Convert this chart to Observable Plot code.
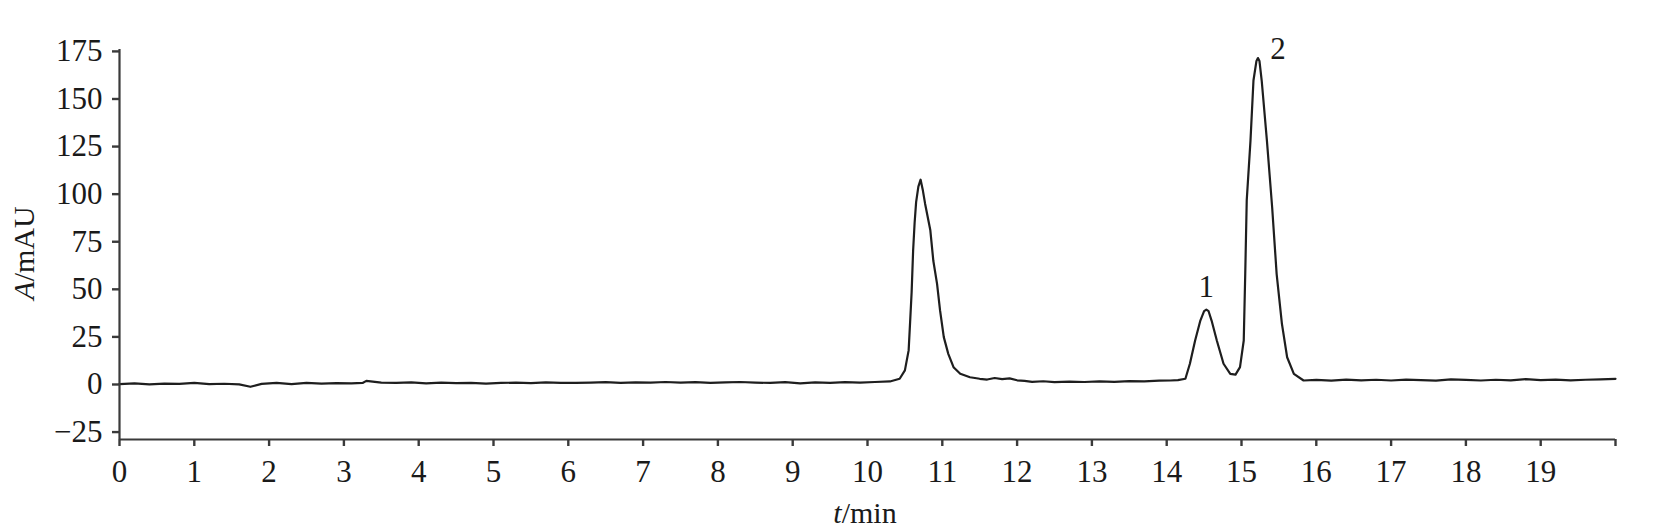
<!DOCTYPE html>
<html><head><meta charset="utf-8">
<script src="https://cdn.jsdelivr.net/npm/d3@7"></script>
<script src="https://cdn.jsdelivr.net/npm/@observablehq/plot@0.6"></script>
<style>html,body{margin:0;padding:0;background:#fff}svg{display:block}</style>
</head><body><div id="chart"></div>
<script>
// retention time (min)
const time = [
 0, 0.2, 0.4, 0.6, 0.8, 1.0, 1.2, 1.4, 1.6, 1.75, 1.9, 2.1, 2.3, 2.5, 2.7, 2.9, 3.1, 3.25, 3.3, 3.5,
 3.7, 3.9, 4.1, 4.3, 4.5, 4.7, 4.9, 5.1, 5.3, 5.5, 5.7, 5.9, 6.1, 6.3, 6.5, 6.7, 6.9, 7.1, 7.3, 7.5,
 7.7, 7.9, 8.1, 8.3, 8.5, 8.7, 8.9, 9.1, 9.3, 9.5, 9.7, 9.9, 10.1, 10.3,
 10.43, 10.5, 10.55, 10.57, 10.59, 10.61, 10.63, 10.65, 10.68, 10.71, 10.74, 10.77, 10.84, 10.88, 10.93, 10.97, 11.02, 11.08, 11.15, 11.24, 11.37, 11.5,
 11.6, 11.7, 11.8, 11.9, 12.0, 12.1, 12.2, 12.35, 12.5, 12.7, 12.9, 13.1, 13.3, 13.5, 13.7, 13.9, 14.05, 14.15, 14.25,
 14.31, 14.38, 14.45, 14.5, 14.53, 14.56, 14.6, 14.67, 14.76, 14.85, 14.92, 14.98, 15.03, 15.05, 15.07, 15.12, 15.16, 15.2, 15.22, 15.24, 15.27, 15.34, 15.41, 15.47, 15.54, 15.61, 15.7, 15.83,
 16.0, 16.2, 16.4, 16.6, 16.8, 17.0, 17.2, 17.4, 17.6, 17.8, 18.0, 18.2, 18.4, 18.6, 18.8, 19.0, 19.2, 19.4, 19.6, 19.8, 20.0
];
// absorbance (mAU)
const absorbance = [
 0.2, 0.6, 0.1, 0.5, 0.3, 0.8, 0.2, 0.4, 0.1, -1.2, 0.3, 0.8, 0.2, 0.9, 0.5, 0.7, 0.6, 0.8, 1.9, 1.0,
 0.8, 1.1, 0.6, 1.0, 0.7, 0.9, 0.5, 0.8, 1.0, 0.7, 1.1, 0.9, 0.8, 1.0, 1.2, 0.9, 1.1, 1.0, 1.3, 1.0,
 1.2, 0.9, 1.1, 1.3, 1.0, 0.8, 1.2, 0.6, 1.1, 0.9, 1.2, 1.0, 1.3, 1.6,
 3.0, 7.4, 17.9, 33.0, 48.5, 70.4, 85.0, 95.8, 104.0, 107.6, 102.0, 95.0, 81.0, 65.0, 52.9, 38.9, 24.9, 16.1, 9.1, 5.6, 3.8, 3.0,
 2.6, 3.4, 2.8, 3.2, 2.2, 1.9, 1.4, 1.7, 1.2, 1.5, 1.3, 1.6, 1.4, 1.8, 1.6, 2.0, 2.1, 2.3, 3.0,
 10.9, 23.1, 33.6, 38.5, 39.3, 38.5, 33.6, 23.1, 10.9, 5.6, 5.2, 9.1, 23.1, 58.2, 96.7, 128.0, 159.7, 170.0, 171.5, 170.0, 159.7, 128.0, 93.0, 58.0, 32.0, 14.3, 5.6, 2.1,
 2.4, 2.0, 2.6, 2.2, 2.5, 2.1, 2.6, 2.3, 2.0, 2.7, 2.4, 2.1, 2.5, 2.2, 2.8, 2.3, 2.6, 2.2, 2.5, 2.7, 3.0
];
const xTicks = [0,1,2,3,4,5,6,7,8,9,10,11,12,13,14,15,16,17,18,19,20];
const xTickLabels = ["0","1","2","3","4","5","6","7","8","9","10","11","12","13","14","15","16","17","18","19",""];
const yTicks = [-25,0,25,50,75,100,125,150,175];
const peakTimes = [14.53, 15.22];
const peakValues = [39.3, 171.5];
const peakLabels = ["1", "2"];

const data = time.map((t, i) => ({t, a: absorbance[i]}));
const peaks = peakLabels.map((l, i) => ({t: peakTimes[i], a: peakValues[i], label: l}));
const yMin = -28.9, yMax = 176;

const chart = Plot.plot({
  width: 1676, height: 532,
  marginLeft: 119, marginRight: 61, marginTop: 49, marginBottom: 93,
  style: {fontFamily: "'Liberation Serif', 'Times New Roman', serif", fontSize: "31px", color: "#1a1a1a", background: "#fff"},
  x: {domain: [0, 20], label: null},
  y: {domain: [yMin, yMax], label: null},
  marks: [
    Plot.line(data, {x: "t", y: "a", stroke: "#1e1e1e", strokeWidth: 2.2}),
    Plot.ruleY([yMin], {stroke: "#3a3a3a", strokeWidth: 2.2}),
    Plot.ruleX([0], {stroke: "#3a3a3a", strokeWidth: 2.2}),
    Plot.axisX({ticks: xTicks, tickFormat: (d) => xTickLabels[xTicks.indexOf(d)], tickSize: 7, tickPadding: 13, stroke: "#3a3a3a", strokeWidth: 2.4, label: null}),
    Plot.axisY({ticks: yTicks, tickSize: 7, tickPadding: 10, stroke: "#3a3a3a", strokeWidth: 2.4, label: null}),
    Plot.text(peaks.slice(0, 1), {x: "t", y: "a", text: "label", dy: -23, fill: "#1a1a1a", fontSize: 31}),
    Plot.text(peaks.slice(1), {x: "t", y: "a", text: "label", dx: 20, dy: -9, fill: "#1a1a1a", fontSize: 31})
  ]
});
document.getElementById("chart").appendChild(chart);

const svg = d3.select(chart);
const yt = svg.append("text")
  .attr("transform", "translate(34,253) rotate(-90)")
  .attr("text-anchor", "middle")
  .attr("fill", "#1a1a1a")
  .style("font-size", "30px");
yt.append("tspan").attr("font-style", "italic").text("A");
yt.append("tspan").text("/mAU");
const xt = svg.append("text")
  .attr("x", 865).attr("y", 523)
  .attr("text-anchor", "middle")
  .attr("fill", "#1a1a1a")
  .style("font-size", "30px");
xt.append("tspan").attr("font-style", "italic").text("t");
xt.append("tspan").text("/min");
</script>
</body></html>
